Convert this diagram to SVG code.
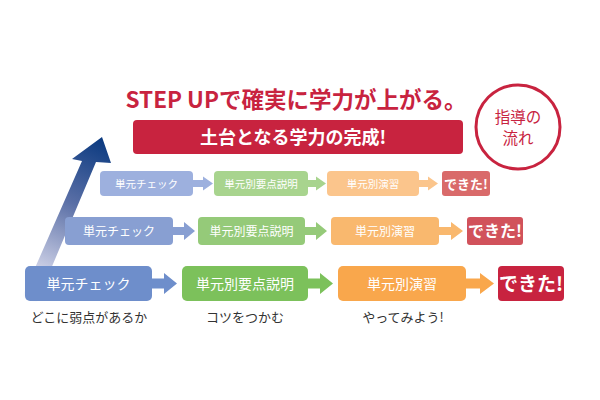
<svg xmlns="http://www.w3.org/2000/svg" width="600" height="400" viewBox="0 0 600 400">
<defs>
<linearGradient id="up" gradientUnits="userSpaceOnUse" x1="28" y1="300" x2="104" y2="140">
<stop offset="0" stop-color="#ffffff"/>
<stop offset="0.2" stop-color="#c9cde4"/>
<stop offset="0.6" stop-color="#5a6fa6"/>
<stop offset="1" stop-color="#0b3a80"/>
</linearGradient>
<style>
text{font-family:"Noto Sans CJK JP","Liberation Sans",sans-serif;text-anchor:middle}
.w{fill:#ffffff}
.k{fill:#333333;font-size:13px}
.b1{fill:#6e8ecb}.g1{fill:#7cc15b}.o1{fill:#f9a74c}.r1{fill:#c8233f}
.b2{fill:#889fd2}.g2{fill:#95ca79}.o2{fill:#f9b86e}.r2{fill:#d1525b}
.b3{fill:#9db0de}.g3{fill:#a8d48e}.o3{fill:#fbc58c}.r3{fill:#d96a6a}
.crim{fill:#c8233f}
</style>
</defs>
<rect width="600" height="400" fill="#ffffff"/>

<g id="rise-arrow">
<polygon points="20,302 82,161 72,159 102,137 111,163 96,162 37,302" fill="url(#up)"/>
</g>

<g id="title">
<text x="296" y="107.5" class="crim" font-size="22.5" font-weight="bold">STEP UPで確実に学力が上がる。</text>
</g>

<g id="banner">
<rect x="133" y="120" width="330" height="34" rx="4" class="crim"/>
<text x="293" y="144" class="w" font-size="18" font-weight="bold">土台となる学力の完成!</text>
</g>

<g id="flow-badge">
<circle cx="518" cy="127" r="42" fill="#ffffff" stroke="#c8233f" stroke-width="3"/>
<text x="518" y="123" class="crim" font-size="15.5">指導の</text>
<text x="518" y="144" class="crim" font-size="15.5">流れ</text>
</g>

<g id="connectors">
<path class="b3" d="M192,180 H203 V176.5 L213,183.5 L203,190.5 V187 H192 Z"/>
<path class="g3" d="M307,180 H316 V176.5 L326,183.5 L316,190.5 V187 H307 Z"/>
<path class="o3" d="M418,180 H428 V176.5 L438,183.5 L428,190.5 V187 H418 Z"/>
<path class="b2" d="M172,227 H184 V222 L195,231 L184,240 V235 H172 Z"/>
<path class="g2" d="M304,227 H316 V222 L327,231 L316,240 V235 H304 Z"/>
<path class="o2" d="M438,227 H451 V222 L463,231 L451,240 V235 H438 Z"/>
<path class="b1" d="M151,278.5 H164 V273 L177,283.5 L164,294 V288.5 H151 Z"/>
<path class="g1" d="M307,278.5 H320 V273 L333,283.5 L320,294 V288.5 H307 Z"/>
<path class="o1" d="M465,278.5 H480 V273 L494,283.5 L480,294 V288.5 H465 Z"/>
</g>

<g id="r3-check"><rect x="100" y="171" width="93" height="25" rx="4" class="b3"/><text x="146.5" y="187.5" class="w" font-size="10.5">単元チェック</text></g>
<g id="r3-explain"><rect x="214" y="171" width="94" height="25" rx="4" class="g3"/><text x="261" y="187.5" class="w" font-size="10.5">単元別要点説明</text></g>
<g id="r3-practice"><rect x="327" y="171" width="92" height="25" rx="4" class="o3"/><text x="373" y="187.5" class="w" font-size="10.5">単元別演習</text></g>
<g id="r3-done"><rect x="442" y="171" width="48" height="25" rx="3" class="r3"/><text x="466" y="189" class="w" font-size="13" font-weight="bold">できた!</text></g>

<g id="r2-check"><rect x="65" y="217" width="108" height="28" rx="4" class="b2"/><text x="119" y="235.5" class="w" font-size="12">単元チェック</text></g>
<g id="r2-explain"><rect x="198" y="217" width="107" height="28" rx="4" class="g2"/><text x="251.5" y="235.5" class="w" font-size="12">単元別要点説明</text></g>
<g id="r2-practice"><rect x="331" y="217" width="108" height="28" rx="4" class="o2"/><text x="385" y="235.5" class="w" font-size="12">単元別演習</text></g>
<g id="r2-done"><rect x="467" y="217" width="56" height="28" rx="3" class="r2"/><text x="495" y="237" class="w" font-size="16" font-weight="bold">できた!</text></g>

<g id="r1-check"><rect x="25" y="266" width="127" height="35" rx="5" class="b1"/><text x="88.5" y="288.5" class="w" font-size="14">単元チェック</text></g>
<g id="r1-explain"><rect x="182" y="266" width="126" height="35" rx="5" class="g1"/><text x="245" y="288.5" class="w" font-size="14">単元別要点説明</text></g>
<g id="r1-practice"><rect x="338" y="266" width="128" height="35" rx="5" class="o1"/><text x="402" y="288.5" class="w" font-size="14">単元別演習</text></g>
<g id="r1-done"><rect x="498" y="266" width="66" height="35" rx="4" class="r1"/><text x="531" y="290.5" class="w" font-size="19" font-weight="bold">できた!</text></g>

<g id="captions">
<text x="89" y="322" class="k">どこに弱点があるか</text>
<text x="245" y="322" class="k">コツをつかむ</text>
<text x="403" y="322" class="k">やってみよう!</text>
</g>
</svg>
